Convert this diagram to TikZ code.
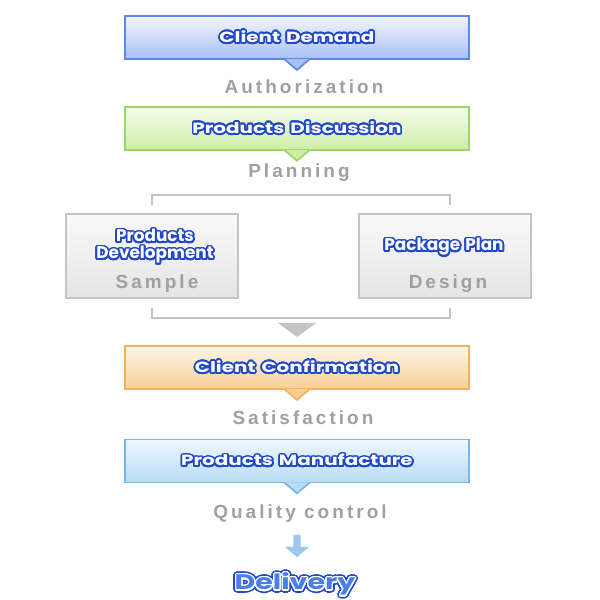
\documentclass[tikz,border=0pt]{standalone}
\usepackage{fontspec}
\usepackage{contour}
\setmainfont{Liberation Sans}
\newfontfamily\bubblefont[FakeStretch=1.35, WordSpace=1.4]{Poppins}
\newfontfamily\smallbubblefont[WordSpace=1.4]{Poppins}
\newfontfamily\spacedfont[LetterSpace=16]{Liberation Sans}
\definecolor{titleblue}{HTML}{2148C6}
\definecolor{demandline}{HTML}{5A8AE6}
\definecolor{demandtop}{HTML}{F2F5FF}
\definecolor{demandbot}{HTML}{A8C0F4}
\definecolor{discline}{HTML}{9AD866}
\definecolor{disctop}{HTML}{F5FBEC}
\definecolor{discbot}{HTML}{CDEEA8}
\definecolor{confline}{HTML}{F2B25A}
\definecolor{conftop}{HTML}{FDF5E8}
\definecolor{confbot}{HTML}{F7CF95}
\definecolor{manuline}{HTML}{74B8EA}
\definecolor{manutop}{HTML}{EEF7FE}
\definecolor{manubot}{HTML}{B7DCF6}
\definecolor{planline}{HTML}{C4C4C4}
\definecolor{plantop}{HTML}{FAFAFA}
\definecolor{planbot}{HTML}{E4E4E4}
\definecolor{labelgray}{HTML}{A0A0A0}
\definecolor{arrowblue}{HTML}{9CC8F0}
\definecolor{deliveryfill}{HTML}{4A7FE8}
\contourlength{1.2pt}
\contournumber{24}
\newcommand{\bubble}[1]{\contour{titleblue}{#1}}
\begin{document}
\begin{tikzpicture}[
      flowbox/.style n args={3}{draw=#1, top color=#2, bottom color=#3,
        line width=1.2pt, minimum width=8.6cm, minimum height=1.075cm,
        text=white, font=\bubblefont\bfseries\fontsize{10.5}{13}\selectfont},
      planbox/.style={draw=planline, top color=plantop, bottom color=planbot,
        line width=1.2pt, minimum width=4.3cm, minimum height=2.1cm},
      steplabel/.style={anchor=base, text=labelgray,
        font=\spacedfont\bfseries\fontsize{13.5}{15}\selectfont},
      boxtitle/.style={anchor=base, text=white,
        font=\smallbubblefont\bfseries\fontsize{12}{14}\selectfont},
      bracket/.style={draw=planline, line width=1.4pt}]
      \useasboundingbox (0,0) rectangle (15,15);
      % main steps
      \node[flowbox={demandline}{demandtop}{demandbot}] (demand) at (7.425,14.06) {\bubble{Client Demand}};
      \node[flowbox={discline}{disctop}{discbot}] (discussion) at (7.425,11.79) {\bubble{Products Discussion}};
      \node[flowbox={confline}{conftop}{confbot}] (confirmation) at (7.425,5.81) {\bubble{Client Confirmation}};
      \node[flowbox={manuline}{manutop}{manubot}] (manufacture) at (7.425,3.475) {\bubble{Products Manufacture}};
      % pointers under the boxes
      \draw[draw=demandline, fill=demandbot, line width=1.2pt] ([xshift=-0.32cm,yshift=0.6pt]demand.south) -- ([yshift=-0.25cm]demand.south) -- ([xshift=0.32cm,yshift=0.6pt]demand.south);
      \draw[draw=discline, fill=discbot, line width=1.2pt] ([xshift=-0.32cm,yshift=0.6pt]discussion.south) -- ([yshift=-0.25cm]discussion.south) -- ([xshift=0.32cm,yshift=0.6pt]discussion.south);
      \draw[draw=confline, fill=confbot, line width=1.2pt] ([xshift=-0.32cm,yshift=0.6pt]confirmation.south) -- ([yshift=-0.25cm]confirmation.south) -- ([xshift=0.32cm,yshift=0.6pt]confirmation.south);
      \draw[draw=manuline, fill=manubot, line width=1.2pt] ([xshift=-0.32cm,yshift=0.6pt]manufacture.south) -- ([yshift=-0.25cm]manufacture.south) -- ([xshift=0.32cm,yshift=0.6pt]manufacture.south);
      % labels between
      \node[steplabel] (authorization) at (7.6,12.65) {Authorization};
      \node[steplabel] (planning) at (7.475,10.55) {Planning};
      \node[steplabel] (satisfaction) at (7.575,4.375) {Satisfaction};
      \node[steplabel] (quality) at (7.5,2.025) {Quality control};
      % planning branches
      \node[planbox] (development) at (3.8,8.6) {};
      \node[planbox] (package) at (11.125,8.6) {};
      \node[boxtitle] (devname) at (3.875,8.95) {\bubble{Products}};
      \node[boxtitle] (devname2) at (3.875,8.525) {\bubble{Development}};
      \node[boxtitle] (packname) at (11.1,8.725) {\bubble{Package Plan}};
      \node[steplabel] (sample) at (3.925,7.775) {Sample};
      \node[steplabel] (design) at (11.2,7.775) {Design};
      \coordinate (brtl) at (3.8,9.875);
      \coordinate (brtr) at (11.25,9.875);
      \coordinate (brbl) at (3.8,7.3);
      \coordinate (brbr) at (11.25,7.3);
      \draw[bracket] (brtl) -- ++(0,0.25) -| (brtr);
      \draw[bracket] (brbl) -- ++(0,-0.25) -| (brbr);
      \fill[planline] (6.95,6.925) -- (7.9,6.925) -- (7.425,6.575) -- cycle;
      % delivery
      \fill[arrowblue] (7.335,1.625) -- (7.335,1.325) -- (7.125,1.325) -- (7.425,1.075) -- (7.725,1.325) -- (7.515,1.325) -- (7.515,1.625) -- cycle;
      \node[anchor=base, text=deliveryfill, font=\bubblefont\bfseries\fontsize{15}{18}\selectfont] (delivery) at (7.375,0.25) {\contourlength{2.2pt}\contour{titleblue}{Delivery}};
      \node[anchor=base, text=deliveryfill, font=\bubblefont\bfseries\fontsize{15}{18}\selectfont] (deliverytop) at (delivery.base) {\contourlength{0.9pt}\contour{white}{Delivery}};
     \end{tikzpicture}
\end{document}
